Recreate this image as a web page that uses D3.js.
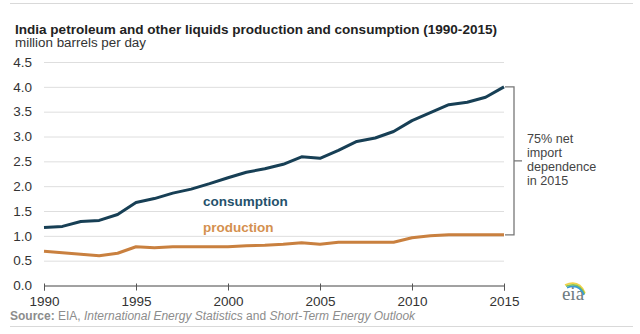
<!doctype html>
<html lang="en">
<head>
  <meta charset="utf-8">
  <title>India petroleum production and consumption - D3</title>
  <style>
    body { margin: 0; background: #fff; }
    svg { display: block; font-family: "Liberation Sans", Arial, sans-serif; }
  </style>
</head>
<body>
  <svg id="chart"></svg>

  <script src="https://cdn.jsdelivr.net/npm/d3@7/dist/d3.min.js"></script>
  <script>
    // data, million barrels per day
    var years = [1990, 1991, 1992, 1993, 1994, 1995, 1996, 1997, 1998, 1999,
      2000, 2001, 2002, 2003, 2004, 2005, 2006, 2007, 2008, 2009,
      2010, 2011, 2012, 2013, 2014, 2015];
    var consumption = [1.17, 1.19, 1.29, 1.31, 1.43, 1.67, 1.75, 1.86, 1.94, 2.05,
      2.17, 2.28, 2.35, 2.44, 2.59, 2.56, 2.72, 2.90, 2.97, 3.10,
      3.32, 3.48, 3.64, 3.69, 3.79, 4.00];
    var production = [0.69, 0.66, 0.63, 0.60, 0.65, 0.78, 0.76, 0.78, 0.78, 0.78,
      0.78, 0.80, 0.81, 0.83, 0.86, 0.83, 0.87, 0.87, 0.87, 0.87,
      0.96, 1.00, 1.02, 1.02, 1.02, 1.02];
    var yTicks = [0, 0.5, 1, 1.5, 2, 2.5, 3, 3.5, 4, 4.5];
    var xTicks = [1990, 1995, 2000, 2005, 2010, 2015];
    var noteLines = ['75% net', 'import', 'dependence', 'in 2015'];

    var width = 640;
    var height = 334;
    var svg = d3.select('#chart')
      .attr('width', width)
      .attr('height', height);

    var x = d3.scaleLinear().domain([1990, 2015]).range([44, 504]);
    var y = d3.scaleLinear().domain([0, 4.5]).range([285.5, 62]);

    // top and bottom rules
    svg.append('line').attr('x1', 10).attr('x2', 633).attr('y1', 3.5).attr('y2', 3.5)
      .attr('stroke', '#d9d9d9');
    svg.append('line').attr('x1', 10).attr('x2', 633).attr('y1', 326.5).attr('y2', 326.5)
      .attr('stroke', '#d9d9d9');

    // title
    svg.append('text').attr('x', 15).attr('y', 34)
      .attr('font-size', 13).attr('font-weight', 'bold').attr('fill', '#222')
      .attr('textLength', 482).attr('lengthAdjust', 'spacingAndGlyphs')
      .text('India petroleum and other liquids production and consumption (1990-2015)');
    svg.append('text').attr('x', 15).attr('y', 47)
      .attr('font-size', 12.5).attr('fill', '#333')
      .attr('textLength', 131).attr('lengthAdjust', 'spacingAndGlyphs')
      .text('million barrels per day');

    // gridlines + y labels
    var yAxis = d3.axisLeft(y).tickValues(yTicks).tickFormat(d3.format('.1f'))
      .tickSize(-(x.range()[1] - x.range()[0])).tickPadding(12);
    var gy = svg.append('g').attr('transform', 'translate(' + x.range()[0] + ',0)').call(yAxis);
    gy.select('.domain').remove();
    gy.selectAll('.tick line').attr('stroke', '#dedede');
    gy.selectAll('.tick text').attr('font-size', 13.5).attr('fill', '#333')
      .attr('font-family', '"Liberation Sans", Arial, sans-serif');

    // x axis
    var xAxis = d3.axisBottom(x).tickValues(xTicks).tickFormat(d3.format('d'))
      .tickSizeOuter(0).tickSize(5).tickPadding(6);
    var gx = svg.append('g').attr('transform', 'translate(0,' + y(0) + ')').call(xAxis);
    gx.select('.domain').attr('stroke', '#555');
    gx.selectAll('.tick line').attr('stroke', '#555').attr('y1', -2);
    gx.selectAll('.tick text').attr('font-size', 13.5).attr('fill', '#333')
      .attr('font-family', '"Liberation Sans", Arial, sans-serif');

    // lines
    var line = d3.line().x(function (d, i) { return x(years[i]); }).y(function (d) { return y(d); });
    svg.append('path').datum(production)
      .attr('fill', 'none').attr('stroke', '#c9803f').attr('stroke-width', 3)
      .attr('stroke-linejoin', 'round').attr('d', line);
    svg.append('path').datum(consumption)
      .attr('fill', 'none').attr('stroke', '#173f55').attr('stroke-width', 3)
      .attr('stroke-linejoin', 'round').attr('d', line);

    // series labels
    svg.append('text').attr('x', 203).attr('y', 206)
      .attr('font-size', 13.5).attr('font-weight', 'bold').attr('fill', '#25516b')
      .text('consumption');
    svg.append('text').attr('x', 203).attr('y', 232)
      .attr('font-size', 13.5).attr('font-weight', 'bold').attr('fill', '#d4904f')
      .text('production');

    // bracket for 2015 gap
    var last = years.length - 1;
    var bx = x(years[last]) + 10;
    var yTop = y(consumption[last]);
    var yBot = y(production[last]);
    var yMid = (yTop + yBot) / 2;
    svg.append('path')
      .attr('d', 'M' + (bx - 9) + ',' + yTop + 'H' + bx + 'V' + yBot + 'H' + (bx - 9) +
        'M' + bx + ',' + yMid + 'H' + (bx + 8))
      .attr('fill', 'none').attr('stroke', '#777').attr('stroke-width', 1.3);

    svg.append('g').selectAll('text').data(noteLines).enter()
      .append('text')
      .attr('x', bx + 13)
      .attr('y', function (d, i) { return yMid - 18 + i * 14.2; })
      .attr('font-size', 12.6).attr('fill', '#444')
      .text(function (d) { return d; });

    // source line
    var src = svg.append('text').attr('x', 10).attr('y', 320)
      .attr('font-size', 12).attr('fill', '#8c8c8c');
    src.append('tspan').attr('font-weight', 'bold').text('Source:');
    src.append('tspan').text(' EIA, ');
    src.append('tspan').attr('font-style', 'italic').text('International Energy Statistics');
    src.append('tspan').text(' and ');
    src.append('tspan').attr('font-style', 'italic').text('Short-Term Energy Outlook');

    // eia logo
    var logo = svg.append('g').attr('transform', 'translate(573,300)');
    logo.append('text').attr('text-anchor', 'middle')
      .attr('font-family', '"Liberation Serif", "DejaVu Serif", serif')
      .attr('font-size', 19).attr('fill', '#6d7a80').text('eia');
    var arcs = [['#f2d34a', 16], ['#8cc44c', 14], ['#3a9ad0', 12]];
    arcs.forEach(function (a, i) {
      logo.append('path')
        .attr('d', 'M' + (-8 + i) + ',' + (-15 + i * 1.3) + ' Q' + 6 + ',' + (-a[1] - 5) + ' ' + (12 - i * 0.5) + ',' + (-7 + i))
        .attr('fill', 'none').attr('stroke', a[0]).attr('stroke-width', 1.7);
    });
  </script>
</body>
</html>
